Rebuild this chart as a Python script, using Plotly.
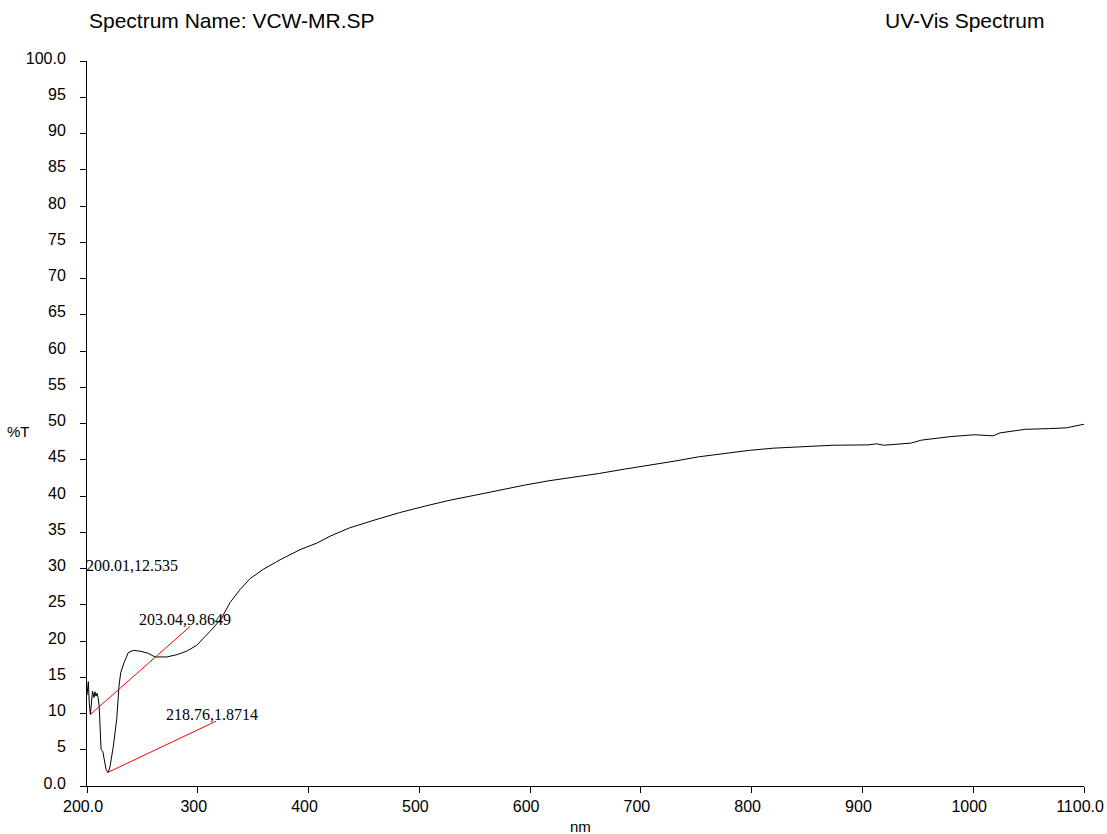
import plotly.graph_objects as go

# UV-Vis transmission spectrum (%T vs wavelength)
wavelength_nm = [
    200.01, 201.2, 202.0, 203.04, 205.0, 206.3, 207.2, 208.1, 209.0, 210.0,
    211.0, 211.8, 212.7, 214.2, 215.7, 217.2, 218.76, 219.3, 220.8, 223.8,
    226.8, 228.9, 230.4, 233.4, 237.3, 241.8, 247.8, 255.3, 261.4, 271.9,
    280.9, 290.0, 299.0, 306.5, 314.0, 321.6, 329.1, 338.2, 347.2, 359.2,
    374.3, 392.3, 407.4, 420.0, 437.0, 460.0, 482.0, 505.0, 527.0, 550.0,
    572.0, 595.0, 617.0, 640.0, 662.0, 685.0, 707.0, 730.0, 752.0, 775.0,
    798.0, 820.0, 843.0, 873.0, 905.0, 913.0, 919.0, 944.0, 953.0, 980.0,
    1001.0, 1018.0, 1024.0, 1047.0, 1069.0, 1084.0, 1100.0,
]
transmittance = [
    12.535, 14.4, 11.5, 9.8649, 13.1, 12.2, 13.0, 12.4, 12.8, 12.2,
    11.0, 8.2, 5.0, 4.8, 3.6, 2.3, 1.8714, 1.9, 2.7, 5.5,
    9.2, 13.8, 15.6, 17.0, 18.4, 18.7, 18.6, 18.3, 17.8, 17.8,
    18.1, 18.6, 19.4, 20.6, 21.8, 23.2, 25.3, 27.1, 28.6, 29.9,
    31.2, 32.6, 33.5, 34.5, 35.6, 36.7, 37.7, 38.6, 39.4, 40.1,
    40.8, 41.5, 42.1, 42.6, 43.1, 43.7, 44.2, 44.8, 45.4, 45.9,
    46.3, 46.6, 46.8, 47.0, 47.05, 47.2, 47.0, 47.3, 47.7, 48.2,
    48.45, 48.3, 48.7, 49.2, 49.3, 49.4, 49.9,
]

# Peak-pick markers: labelled point, where its label sits and where its leader line ends
peak_labels = ["200.01,12.535", "203.04,9.8649", "218.76,1.8714"]
peak_x = [200.01, 203.04, 218.76]
peak_y = [12.535, 9.8649, 1.8714]
label_x = [200.01, 245.1, 269.5]
label_y = [30.4, 22.95, 9.86]
label_xshift = [-3, 0, 0]
leader_end_x = [None, 293.0, 316.4]
leader_end_y = [None, 22.0, 8.93]

x_ticks = [200, 300, 400, 500, 600, 700, 800, 900, 1000, 1100]
x_ticktext = ["200.0", "300", "400", "500", "600", "700", "800", "900", "1000", "1100.0"]
y_ticks = list(range(0, 101, 5))
y_ticktext = ["0.0"] + [str(v) for v in y_ticks[1:-1]] + ["100.0"]

SANS = "Liberation Sans, Arial, sans-serif"
SERIF = "Liberation Serif, Times New Roman, serif"

fig = go.Figure()

fig.add_trace(go.Scatter(
    x=wavelength_nm, y=transmittance, mode="lines",
    line=dict(color="black", width=1), showlegend=False, hoverinfo="skip",
))

for px, py, ex, ey in zip(peak_x, peak_y, leader_end_x, leader_end_y):
    if ex is None:
        continue
    fig.add_trace(go.Scatter(
        x=[px, ex], y=[py, ey], mode="lines",
        line=dict(color="#ff0000", width=1), showlegend=False, hoverinfo="skip",
    ))

annotations = []
for text, lx, ly, sh in zip(peak_labels, label_x, label_y, label_xshift):
    annotations.append(dict(
        x=lx, y=ly, xref="x", yref="y", text=text, showarrow=False,
        xanchor="left", yanchor="middle", xshift=sh,
        font=dict(family=SERIF, size=16, color="black"),
    ))

W, H = 1107, 834
ML, MR, MT, MB = 87, 23, 61, 48
pw, ph = W - ML - MR, H - MT - MB


def px_to_paper(xp, yp):
    return (xp - ML) / pw, 1 - (yp - MT) / ph


page_texts = [
    ("Spectrum Name: VCW-MR.SP", 87, 20, "left", 21),
    ("UV-Vis Spectrum", 1047, 20, "right", 21),
    ("nm", 580, 826, "center", 15),
    ("%T", 18, 432, "center", 15),
]
for text, xp, yp, anchor, size in page_texts:
    xx, yy = px_to_paper(xp, yp)
    annotations.append(dict(
        x=xx, y=yy, xref="paper", yref="paper", text=text, showarrow=False,
        xanchor=anchor, yanchor="middle",
        font=dict(family=SANS, size=size, color="black"),
    ))

axis_common = dict(
    showgrid=False, zeroline=False, showline=True, linecolor="black", linewidth=1,
    ticks="outside", ticklen=6, tickwidth=1, tickcolor="black", mirror=False,
    ticklabeloverflow="allow", automargin=False,
    tickfont=dict(family=SANS, size=16, color="black"),
)

fig.update_layout(
    width=W, height=H,
    margin=dict(l=ML, r=MR, t=MT, b=MB, pad=0, autoexpand=False),
    paper_bgcolor="white", plot_bgcolor="white",
    xaxis=dict(range=[200, 1100], tickvals=x_ticks, ticktext=x_ticktext,
               ticklabelshift=-4, **axis_common),
    yaxis=dict(range=[0, 100], tickvals=y_ticks, ticktext=y_ticktext,
               ticklabelstandoff=11, ticklabelshift=-3, **axis_common),
    annotations=annotations,
)

fig.write_html("out.html")
